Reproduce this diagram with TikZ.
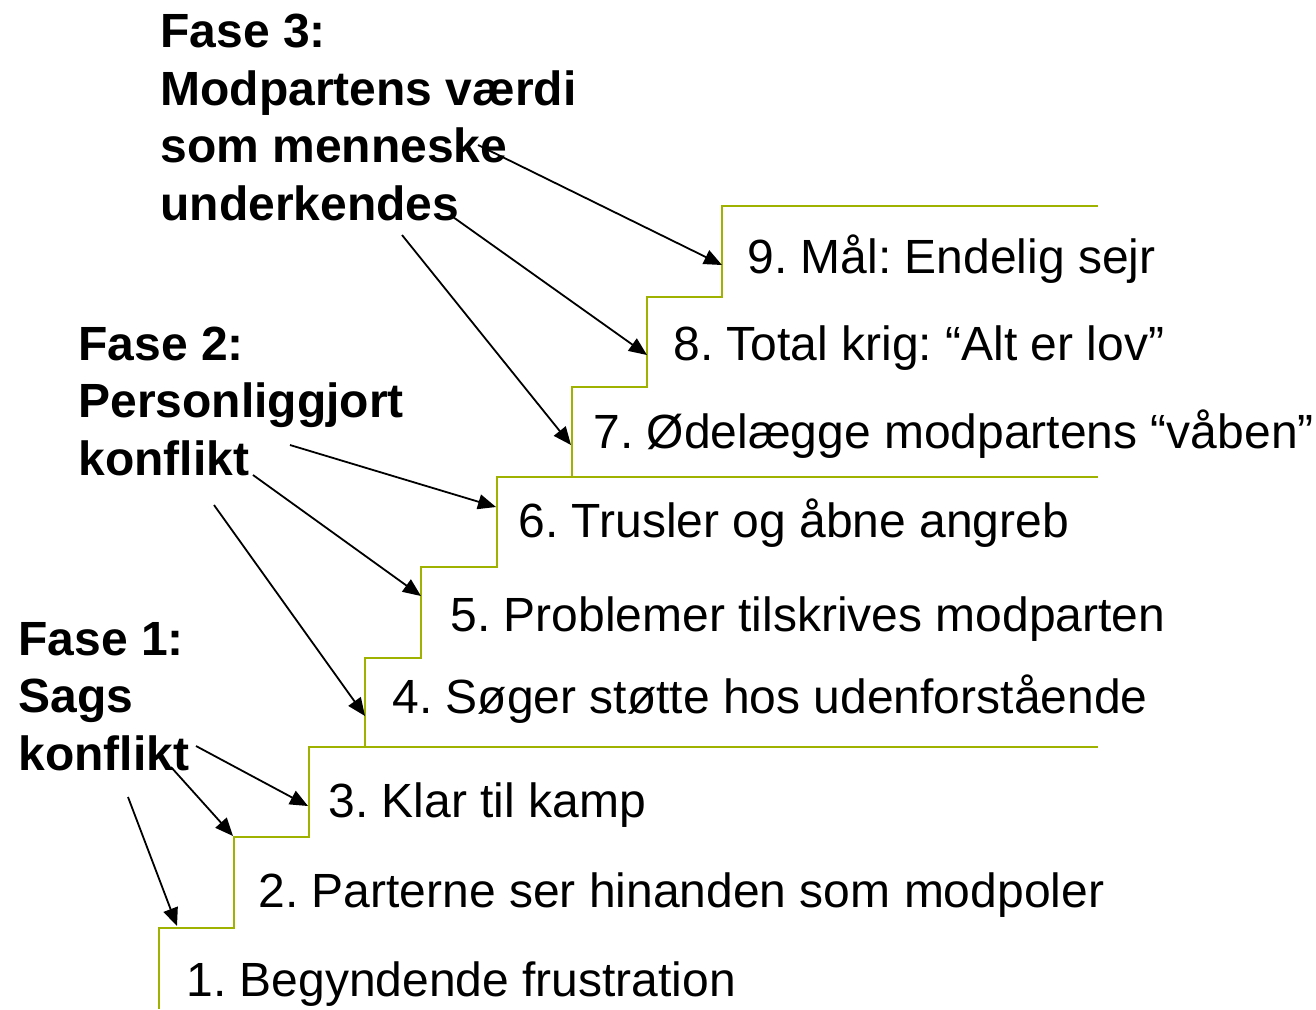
\documentclass[tikz,border=0pt]{standalone}
\usepackage{fontspec}
\setmainfont{Liberation Sans}
\usetikzlibrary{arrows.meta}
\usetikzlibrary{positioning}
\definecolor{stairgreen}{RGB}{160,178,0}
\tikzset{
  stair/.style={stairgreen, line width=1.3pt},
  trin/.style={anchor=base west, inner sep=0pt, font=\fontsize{24}{28}\selectfont},
  fase/.style={anchor=base west, inner sep=0pt, align=left, font=\fontsize{24}{28.75}\selectfont\bfseries},
  pil/.style={black, line width=0.9pt, -{Triangle[length=9pt,width=7.5pt]}}
}

\begin{document}
\frenchspacing
\begin{tikzpicture}[x=0.5pt, y=-0.5pt]
        \useasboundingbox (0,0) rectangle (1316,1009);
        \draw[stair] (159,1009) -- (159,928) -- (234,928) -- (234,837) -- (309,837) -- (309,747) -- (365,747) -- (365,658) -- (421,658) -- (421,567) -- (497,567) -- (497,477) -- (572,477) -- (572,387) -- (647,387) -- (647,297) -- (722,297) -- (722,206) -- (1098,206);
        \draw[stair] (365,747) -- (1098,747);
        \draw[stair] (572,477) -- (1098,477);

        \node[trin] (s1) at (186,996) {1. Begyndende frustration};
        \node[trin] (s2) at (258,907) {2. Parterne ser hinanden som modpoler};
        \node[trin] (s3) at (328,817) {3. Klar til kamp};
        \node[trin] (s4) at (392,713) {4. Søger støtte hos udenforstående};
        \node[trin] (s5) at (450,631) {5. Problemer tilskrives modparten};
        \node[trin] (s6) at (518,537) {6. Trusler og åbne angreb};
        \node[trin] (s7) at (593,448) {7. Ødelægge modpartens “våben”};
        \node[trin] (s8) at (673,360) {8. Total krig: “Alt er lov”};
        \node[trin] (s9) at (747,273) {9. Mål: Endelig sejr};

        \node[fase] (fase1) at (18,770) {Fase 1:\\Sags\\konflikt};
        \node[fase] (fase2) at (78,475) {Fase 2:\\Personliggjort\\konflikt};
        \node[fase] (fase3) at (160,220) {Fase 3:\\Modpartens værdi\\som menneske\\underkendes};

        \coordinate (f1a) at (128,797);
        \coordinate (f1b) at (171,767);
        \coordinate (f1c) at (196,746);
        \coordinate (f2a) at (214,505);
        \coordinate (f2b) at (253,475);
        \coordinate (f2c) at (290,445);
        \coordinate (f3a) at (402,235);
        \coordinate (f3b) at (453,217);
        \coordinate (f3c) at (478,145);

        \coordinate (t1) at (177,926);
        \coordinate (t2) at (233,836);
        \coordinate (t3) at (308,806);
        \coordinate (t4) at (365,716);
        \coordinate (t5) at (421,596);
        \coordinate (t6) at (496,507);
        \coordinate (t7) at (571,445);
        \coordinate (t8) at (647,355);
        \coordinate (t9) at (722,265);

        \draw[pil] (f1a) -- (t1);
        \draw[pil] (f1b) -- (t2);
        \draw[pil] (f1c) -- (t3);
        \draw[pil] (f2a) -- (t4);
        \draw[pil] (f2b) -- (t5);
        \draw[pil] (f2c) -- (t6);
        \draw[pil] (f3a) -- (t7);
        \draw[pil] (f3b) -- (t8);
        \draw[pil] (f3c) -- (t9);
        \end{tikzpicture}
\end{document}
